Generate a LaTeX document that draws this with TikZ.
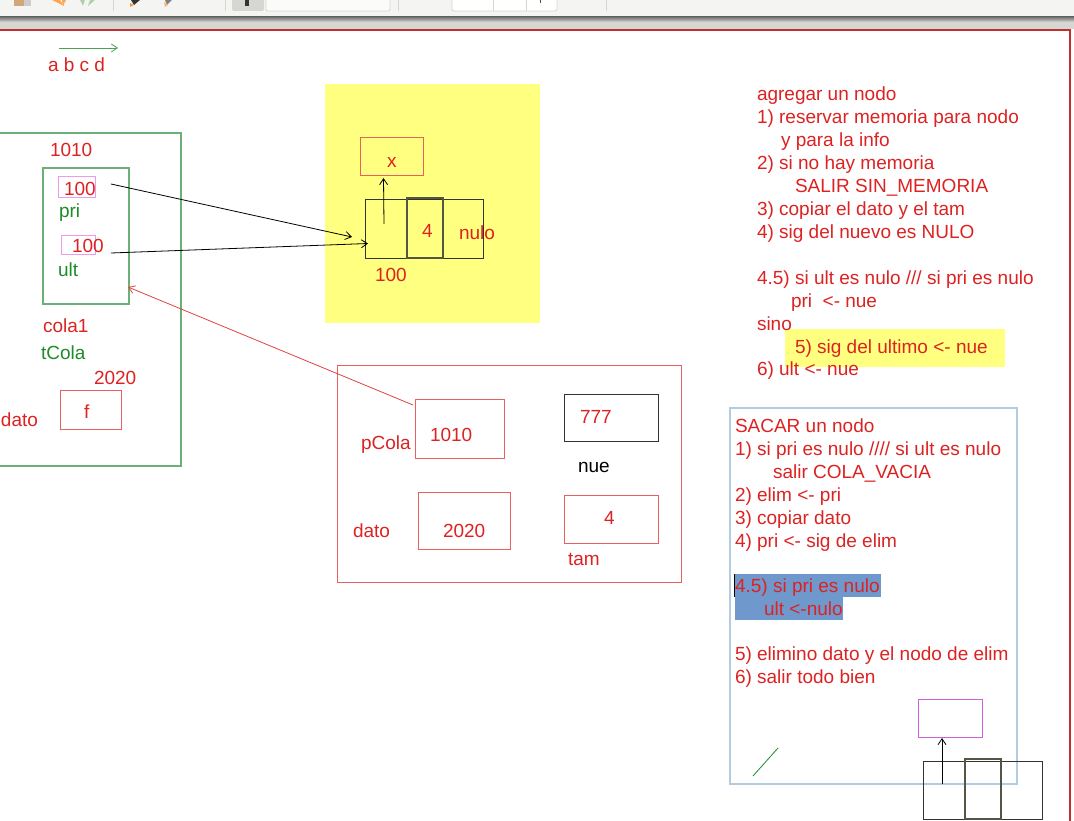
\documentclass[tikz,border=0pt]{standalone}
\usepackage{fontspec}
\setmainfont{Liberation Sans}
\definecolor{tred}{HTML}{DD2222}
\definecolor{bred}{HTML}{E86060}
\definecolor{bgreen}{HTML}{6CB078}
\definecolor{tgreen}{HTML}{1E8A2A}
\definecolor{bpink}{HTML}{EE99EE}
\definecolor{bmag}{HTML}{D060D8}
\definecolor{hyel}{HTML}{FFFF80}
\definecolor{hblue}{HTML}{6F98CC}
\definecolor{bblue}{HTML}{B4CCE0}
\definecolor{frame}{HTML}{C03030}
\definecolor{bar}{HTML}{F4F4F2}
\definecolor{barline}{HTML}{D6D6D2}
\definecolor{dk}{HTML}{333333}
\definecolor{mk}{HTML}{555544}
\newcommand{\boxnode}[6]{\node[#2,anchor=north west,minimum width={(#5-#3)*1pt},minimum height={(#6-#4)*1pt}] (#1) at (#3,#4) {};}
\tikzset{
  x=1pt,y=-1pt,
  txt/.style={anchor=base west,inner sep=0pt,outer sep=0pt,yshift=-0.8pt,text=tred,font=\fontsize{19}{19}\selectfont},
  gtxt/.style={txt,text=tgreen},
  ktxt/.style={txt,text=black},
  plainbox/.style={draw,inner sep=0pt,outer sep=0pt,line width=0.9pt},
  redbox/.style={plainbox,draw=bred,line width=1pt},
  greenbox/.style={plainbox,draw=bgreen,line width=1.3pt},
  pinkbox/.style={plainbox,draw=bpink,line width=1pt},
  magbox/.style={plainbox,draw=bmag,line width=1pt},
  blkbox/.style={plainbox,draw=dk,line width=1pt},
  thickblk/.style={plainbox,draw=mk,line width=1.4pt},
  bluebox/.style={plainbox,draw=bblue,line width=1.3pt},
  conn/.style={-{Straight Barb[length=6pt,width=8pt]},line width=0.8pt},
}
\usetikzlibrary{arrows.meta}
\begin{document}
\begin{tikzpicture}
\useasboundingbox (0,0) rectangle (1074,821);
\clip (0,0) rectangle (1074,821);
\fill[white] (0,0) rectangle (1074,821);
% toolbar
\fill[bar] (0,0) rectangle (1074,17);
\shade[top color=gray!90!black,bottom color=barline] (0,17) rectangle (1074,22);
\fill[barline] (0,22) rectangle (1074,29);
\foreach \sx in {113,225,398,606} \draw[barline,line width=0.8pt] (\sx,0) -- (\sx,11);
\fill[barline,rounded corners=2pt] (232,-4) rectangle (264,11);
\fill[dk] (245,0) rectangle (249,6);
\draw[barline,fill=white!60!bar,rounded corners=2pt,line width=0.8pt] (266,-4) rectangle (390,11);
\draw[barline,fill=white,rounded corners=2pt,line width=0.8pt] (452,-4) rectangle (557,11);
\draw[barline,line width=0.8pt] (493,0) -- (493,11) (526,0) -- (526,11);
\fill[black!70] (540,0) rectangle (541,3);
\fill[brown!70!white] (14,0) rectangle (24,6);
\fill[gray!40] (24,0) rectangle (31,6);
\fill[orange!70] (52,0) -- (60,0) -- (64,6) -- (58,3) -- cycle;
\fill[orange!70] (62,0) -- (66,0) -- (63,6) -- cycle;
\fill[green!30!gray!50] (80,0) -- (85,0) -- (83,6) -- cycle;
\fill[green!30!gray!50] (90,0) -- (95,0) -- (88,6) -- cycle;
\fill[black!80] (131,0) -- (140,0) -- (134,5) -- cycle;
\fill[orange!80] (130,3) -- (134,5) -- (130,7) -- cycle;
\fill[black!50] (165,0) -- (172,0) -- (167,5) -- cycle;
\fill[orange!60] (164,2) -- (168,5) -- (165,7) -- cycle;
% window frame
\draw[frame,line width=1.8pt] (0,30) -- (1070,30) -- (1070,821);
% highlights
\fill[hyel] (325,84) rectangle (540,323);
\fill[hyel] (785,329) rectangle (1005,367);
\fill[hblue] (735,574) rectangle (881,597);
\fill[hblue] (735,597) rectangle (843,620);
\draw[black,line width=0.9pt] (734.5,574) -- (734.5,597);
% title arrow
\coordinate (ga) at (59,48);
\coordinate (gb) at (118,48);
\draw[conn,draw=tgreen!80!white] (ga) -- (gb);
\node[txt] (abcd) at (48,71) {a b c d};
% cola1
\boxnode{outer}{greenbox}{-2}{133}{181}{466}
\boxnode{inner}{greenbox}{43}{168}{129}{304}
\boxnode{pribox}{pinkbox}{58}{177}{95}{198}
\boxnode{ultbox}{pinkbox}{61}{236}{95}{255}
\node[txt] (t1010) at (50,156) {1010};
\node[txt] (pri100) at (64,195) {100};
\node[gtxt] (pri) at (59,217) {pri};
\node[txt] (ult100) at (72,252) {100};
\node[gtxt] (ult) at (58,276) {ult};
\node[txt] (cola1) at (43,332) {cola1};
\node[gtxt] (tcola) at (41,359) {tCola};
\node[txt] (t2020a) at (94,384) {2020};
\boxnode{fbox}{redbox}{60}{390}{121}{429}
\node[txt] (ftxt) at (84,418) {f};
\node[txt] (datoa) at (1,426) {dato};
% yellow node
\boxnode{xbox}{redbox}{360}{138}{423.5}{176}
\node[txt] (xtxt) at (387,167) {x};
\boxnode{nodo}{blkbox}{365}{200}{483}{259}
\boxnode{nodoin}{thickblk}{407}{198}{443}{258}
\node[txt] (four) at (422,237) {4};
\node[txt] (nulo) at (459,239) {nulo};
\node[txt] (h100) at (375,281) {100};
\coordinate (ns) at (384,224);
\coordinate (ne) at (383.5,178);
\draw[conn,draw=black] (ns) -- (ne);
\coordinate (p1) at (111,184);
\coordinate (p2) at (352,237);
\coordinate (u1) at (111,253);
\coordinate (u2) at (368,243.5);
\draw[conn,draw=black] (p1) -- (p2);
\draw[conn,draw=black] (u1) -- (u2);
% red frame
\boxnode{rframe}{redbox}{337}{365}{681}{582}
\boxnode{pcolabox}{redbox}{415}{399}{504}{458}
\boxnode{datobox}{redbox}{418}{492}{510}{549}
\boxnode{nuebox}{blkbox}{564}{394}{658}{441}
\boxnode{tambox}{redbox}{564}{495}{658}{543}
\node[txt] (pcola) at (361,449) {pCola};
\node[txt] (v1010) at (430,441) {1010};
\node[txt] (dato) at (353,537) {dato};
\node[txt] (v2020) at (443,537) {2020};
\node[txt] (v777) at (580,423) {777};
\node[ktxt] (nue) at (578,472) {nue};
\node[txt] (v4) at (604,524) {4};
\node[txt] (tam) at (568,565) {tam};
\coordinate (r1) at (413,405);
\coordinate (r2) at (128,287);
\draw[conn,draw=tred!85!white] (r1) -- (r2);
% agregar
\node[txt] (a0) at (757,100) {agregar un nodo};
\node[txt] (a1) at (757,123) {1) reservar memoria para nodo};
\node[txt] (a2) at (781,146) {y para la info};
\node[txt] (a3) at (757,169) {2) si no hay memoria};
\node[txt] (a4) at (795,192) {SALIR SIN\_MEMORIA};
\node[txt] (a5) at (757,215) {3) copiar el dato y el tam};
\node[txt] (a6) at (757,238) {4) sig del nuevo es NULO};
\node[txt] (a7) at (757,284) {4.5) si ult es nulo /// si pri es nulo};
\node[txt] (a8) at (791,307) {pri\ \ <- nue};
\node[txt] (a9) at (757,330) {sino};
\node[txt] (a10) at (795,353) {5) sig del ultimo <- nue};
\node[txt] (a11) at (757,375) {6) ult <- nue};
% sacar
\boxnode{sacar}{bluebox}{730}{408}{1017}{784}
\node[txt] (s0) at (735,432) {SACAR un nodo};
\node[txt] (s1) at (735,455) {1) si pri es nulo //// si ult es nulo};
\node[txt] (s2) at (773,478) {salir COLA\_VACIA};
\node[txt] (s3) at (735,501) {2) elim <- pri};
\node[txt] (s4) at (735,524) {3) copiar dato};
\node[txt] (s5) at (735,547) {4) pri <- sig de elim};
\node[txt] (s6) at (735,592) {4.5) si pri es nulo};
\node[txt] (s7) at (764,615) {ult <-nulo};
\node[txt] (s8) at (735,660) {5) elimino dato y el nodo de elim};
\node[txt] (s9) at (735,683) {6) salir todo bien};
% bottom node
\boxnode{magb}{magbox}{918}{699}{982}{737}
\boxnode{nodob}{blkbox}{923}{761}{1042}{819}
\boxnode{nodobin}{thickblk}{965}{759}{1001}{819}
\coordinate (b1) at (942,784);
\coordinate (b2) at (942,738);
\draw[conn,draw=black] (b1) -- (b2);
\coordinate (g1) at (753,776);
\coordinate (g2) at (778,748);
\draw[tgreen,line width=0.8pt] (g1) -- (g2);
\end{tikzpicture}
\end{document}
